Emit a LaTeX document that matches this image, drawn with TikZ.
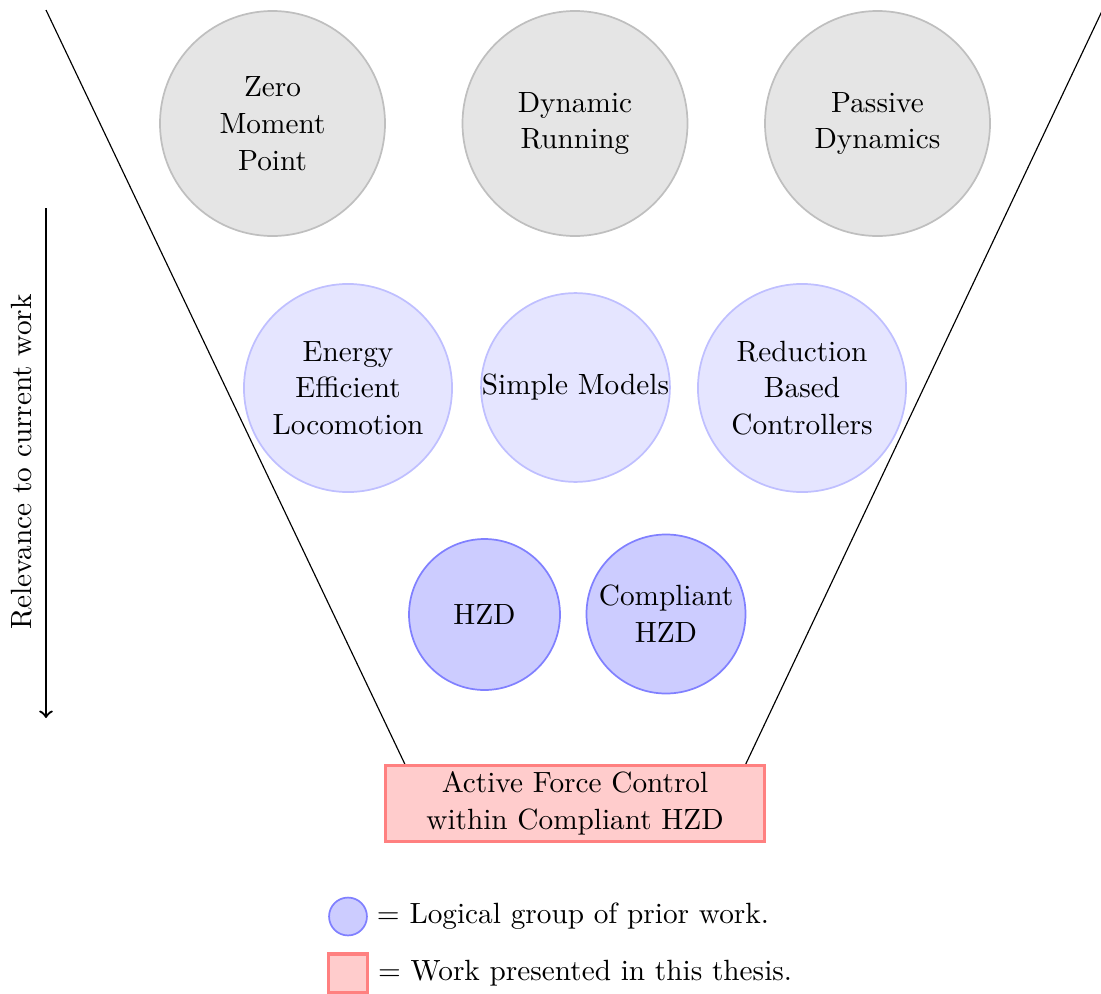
\documentclass[tikz,border=0pt]{standalone}
\begin{document}
\tikzset{
 topc/.style={circle, draw=gray!50, fill=gray!20, line width=0.6pt, inner sep=0pt, minimum size=78.4pt, align=center},
 midc/.style={circle, draw=blue!25, fill=blue!10, line width=0.6pt, inner sep=0pt, align=center},
 lowc/.style={circle, draw=blue!50, fill=blue!20, line width=0.6pt, inner sep=0pt, align=center},
 workbox/.style={rectangle, draw=red!50, fill=red!20, line width=1.2pt, inner sep=0pt, align=center},
 funnel/.style={line width=0.4pt},
 relarrow/.style={->, line width=0.8pt},
 every node/.style={font=\fontsize{10.2}{12.8}\selectfont}
}
\begin{tikzpicture}[x=0.3484pt,y=-0.3484pt]
\useasboundingbox (0,0) rectangle (1101,994);
% funnel
\coordinate (ftl) at (46,10);
\coordinate (ftr) at (1102.5,10);
\coordinate (fbl) at (405.3,765);
\coordinate (fbr) at (745.3,765);
\draw[funnel] (ftl) -- (fbl);
\draw[funnel] (ftr) -- (fbr);
% top row
\node[topc] (zmp) at (272.5,123.5) {Zero\\Moment\\Point};
\node[topc] (dr) at (575,123.5) {Dynamic\\Running};
\node[topc] (pd) at (877.5,123.5) {Passive\\Dynamics};
% middle row
\node[midc, minimum size=72.5pt] (eel) at (348,388) {Energy\\Efficient\\Locomotion};
\node[midc, minimum size=65.8pt] (sm) at (575.5,387.5) {Simple Models};
\node[midc, minimum size=72.5pt] (rbc) at (802,388) {Reduction\\Based\\Controllers};
% bottom row
\node[lowc, minimum size=52.6pt] (hzd) at (484.5,614.5) {HZD};
\node[lowc, minimum size=55.4pt] (chzd) at (666,614) {Compliant\\HZD};
% work box
\node[workbox, minimum width=131.9pt, minimum height=26.3pt] (afc) at (575,803.5) {Active Force Control\\within Compliant HZD};
% relevance arrow
\coordinate (as) at (46,208);
\coordinate (ae) at (46,718);
\draw[relarrow] (as) -- (ae);
\node[rotate=90] (rel) at (22,462) {Relevance to current work};
% legend
\node[lowc, minimum size=13.2pt] (lgc) at (348,916.5) {};
\node[anchor=west, inner xsep=3pt] (lgct) at (lgc.east) {= Logical group of prior work.};
\node[workbox, minimum size=13.4pt] (lgr) at (348,973) {};
\node[anchor=west, inner xsep=3pt] (lgrt) at (lgr.east) {= Work presented in this thesis.};
\end{tikzpicture}
\end{document}
